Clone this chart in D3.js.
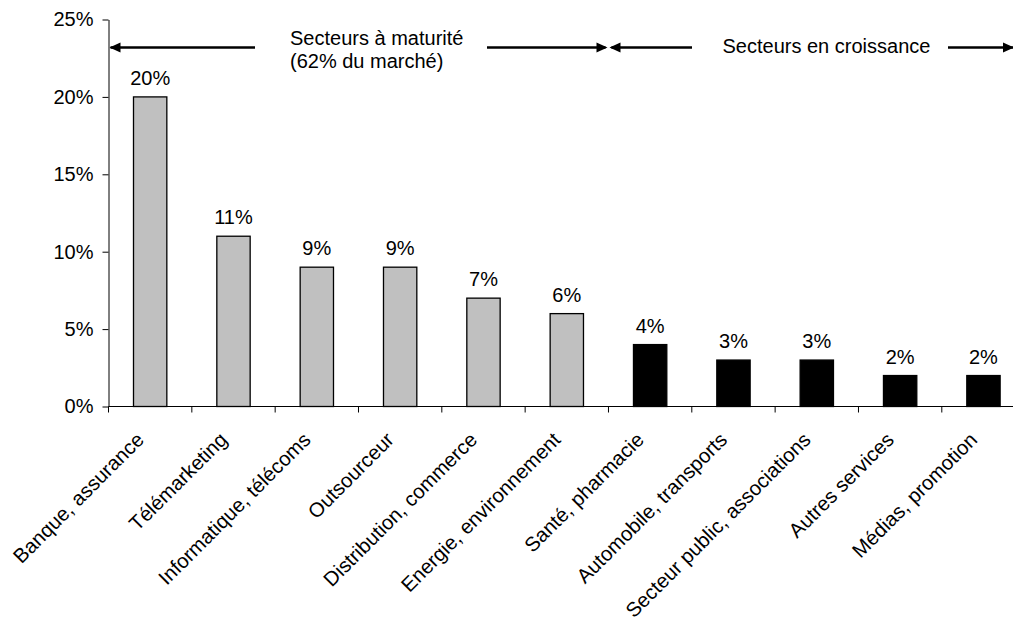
<!DOCTYPE html>
<html>
<head>
<meta charset="utf-8">
<script src="https://cdn.jsdelivr.net/npm/d3@7"></script>
<style>
  html, body { margin: 0; padding: 0; background: #fff; }
  svg { display: block; font-family: "Liberation Sans", Arial, sans-serif; }
</style>
</head>
<body>
<svg id="chart" width="1013" height="617"></svg>
<script>
const categories = [
  "Banque, assurance", "Télémarketing", "Informatique, télécoms", "Outsourceur",
  "Distribution, commerce", "Energie, environnement", "Santé, pharmacie",
  "Automobile, transports", "Secteur public, associations", "Autres services",
  "Médias, promotion"
];
const values = [0.20, 0.11, 0.09, 0.09, 0.07, 0.06, 0.04, 0.03, 0.03, 0.02, 0.02];
const groups = ["mature", "mature", "mature", "mature", "mature", "mature",
  "growth", "growth", "growth", "growth", "growth"];
const yTicks = [0, 0.05, 0.10, 0.15, 0.20, 0.25];
const matureLabel = ["Secteurs à maturité", "(62% du marché)"];
const growthLabel = "Secteurs en croissance";

const W = 1013, H = 617;
const left = 108.5, zeroY = 406.5, topY = 19.5;
const svg = d3.select("#chart");

const x = d3.scaleBand().domain(categories).range([left, left + 83.33 * categories.length])
  .paddingInner(0.6).paddingOuter(0.3);
const y = d3.scaleLinear().domain([0, 0.25]).range([zeroY, topY]);
const color = d3.scaleOrdinal().domain(["mature", "growth"]).range(["#c0c0c0", "#000000"]);
const fmt = d3.format(".0%");
const fontSize = 20;

// Y axis
const yAxis = svg.append("g").attr("transform", `translate(${left},0)`)
  .call(d3.axisLeft(y).tickValues(yTicks).tickFormat(fmt).tickSize(6).tickSizeOuter(0).tickPadding(9));
yAxis.selectAll("text").attr("font-size", fontSize).attr("font-family", "Liberation Sans, Arial, sans-serif").attr("fill", "#000");
yAxis.selectAll("line, path").attr("stroke", "#000");

// X axis baseline + boundary ticks
const step = x.step();
const x0 = x.range()[0];
svg.append("line").attr("x1", x0).attr("x2", W).attr("y1", zeroY).attr("y2", zeroY)
  .attr("stroke", "#000").attr("stroke-width", 1);
svg.append("g").selectAll("line").data(d3.range(categories.length + 1)).join("line")
  .attr("x1", i => x0 + i * step).attr("x2", i => x0 + i * step)
  .attr("y1", zeroY).attr("y2", zeroY + 6).attr("stroke", "#000");

// Bars
svg.append("g").selectAll("rect").data(categories).join("rect")
  .attr("x", (d) => x(d))
  .attr("y", (d, i) => y(values[i]))
  .attr("width", x.bandwidth())
  .attr("height", (d, i) => y(0) - y(values[i]))
  .attr("fill", (d, i) => color(groups[i]))
  .attr("stroke", "#000").attr("stroke-width", 1.3);

// Value labels
svg.append("g").selectAll("text").data(categories).join("text")
  .attr("x", d => x(d) + x.bandwidth() / 2)
  .attr("y", (d, i) => y(values[i]) - 12)
  .attr("text-anchor", "middle").attr("font-size", fontSize)
  .text((d, i) => fmt(values[i]));

// Category labels (rotated)
svg.append("g").selectAll("text").data(categories).join("text")
  .attr("transform", d => `translate(${x(d) + x.bandwidth() / 2 - 5},441) rotate(-45)`)
  .attr("text-anchor", "end").attr("font-size", 20.3)
  .text(d => d);

// Annotations
const arrowY = 47.5;
function arrowHead(tipX, dir) { // dir: -1 pointing left, +1 pointing right
  const L = 11, Hh = 5;
  svg.append("path")
    .attr("d", `M${tipX},${arrowY} L${tipX - dir * L},${arrowY - Hh} L${tipX - dir * L},${arrowY + Hh} Z`)
    .attr("fill", "#000");
}
function seg(a, b) {
  svg.append("line").attr("x1", a).attr("x2", b).attr("y1", arrowY).attr("y2", arrowY)
    .attr("stroke", "#000").attr("stroke-width", 2.5);
}
const split = x0 + groups.filter(g => g === "mature").length * step;
// mature span
seg(x0 + 2, 255); arrowHead(x0 + 1, -1);
seg(487, split - 3); arrowHead(split - 1, 1);
// growth span
seg(split + 3, 692); arrowHead(split + 1, -1);
seg(948, W); arrowHead(W + 1, 1);

svg.append("text").attr("x", 290).attr("y", 45).attr("font-size", 20).text(matureLabel[0]);
svg.append("text").attr("x", 290).attr("y", 67.5).attr("font-size", 20).text(matureLabel[1]);
svg.append("text").attr("x", 722.5).attr("y", 52.5).attr("font-size", 20).text(growthLabel);
</script>
</body>
</html>
